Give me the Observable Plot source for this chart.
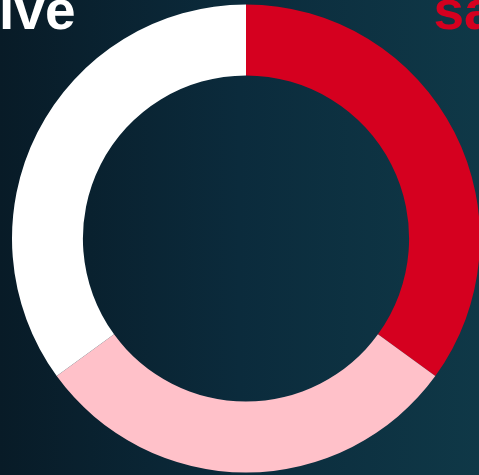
<!DOCTYPE html>
<html>
<head>
<meta charset="utf-8">
<script src="https://cdn.jsdelivr.net/npm/d3@7"></script>
<script src="https://cdn.jsdelivr.net/npm/@observablehq/plot@0.6"></script>
<style>
  html, body { margin: 0; padding: 0; background: #0b2634; overflow: hidden; }
  #chart svg { display: block; }
</style>
</head>
<body>
<div id="chart"></div>
<script>
// Data
const categories = ["Red", "Pink", "White"];
const shares = [35, 30, 35];
const colors = ["#d5001f", "#ffc1c9", "#ffffff"];
const labelLeft = ["Positive"];
const labelRight = ["satisfied"];

const slices = categories.map((c, i) => ({category: c, value: shares[i], color: colors[i]}));

const W = 479, H = 475;

function donut(index, scales, values, dim) {
  const cx = scales.x(0), cy = scales.y(0);
  const rOuter = Math.abs(scales.x(1) - scales.x(0));
  const rInner = rOuter * 0.697;
  const pie = d3.pie().sort(null).value(d => d.value)(slices);
  const arc = d3.arc().innerRadius(rInner).outerRadius(rOuter);
  const g = d3.create("svg:g").attr("transform", `translate(${cx},${cy})`);
  g.selectAll("path").data(pie).join("path")
    .attr("d", arc)
    .attr("fill", d => d.data.color);
  return g.node();
}

const chart = Plot.plot({
  width: W,
  height: H,
  margin: 0,
  x: {domain: [-1, 1], range: [12, 480], axis: null},
  y: {domain: [-1, 1], range: [472.5, 4.5], axis: null},
  style: {background: "linear-gradient(90deg, #081b27 0%, #0b2b3c 50%, #0f3847 100%)", overflow: "hidden"},
  marks: [
    donut,
    Plot.text(labelLeft, {frameAnchor: "top-left", text: d => d, textAnchor: "end", lineAnchor: "bottom", dx: 75, dy: 28,
      fill: "#ffffff", fontSize: 55, fontWeight: 700, fontFamily: "Liberation Sans"}),
    Plot.text(labelRight, {frameAnchor: "top-left", text: d => d, textAnchor: "start", lineAnchor: "bottom", dx: 433, dy: 28,
      fill: "#d5001f", fontSize: 55, fontWeight: 700, fontFamily: "Liberation Sans"})
  ]
});
document.getElementById("chart").appendChild(chart);
</script>
</body>
</html>
